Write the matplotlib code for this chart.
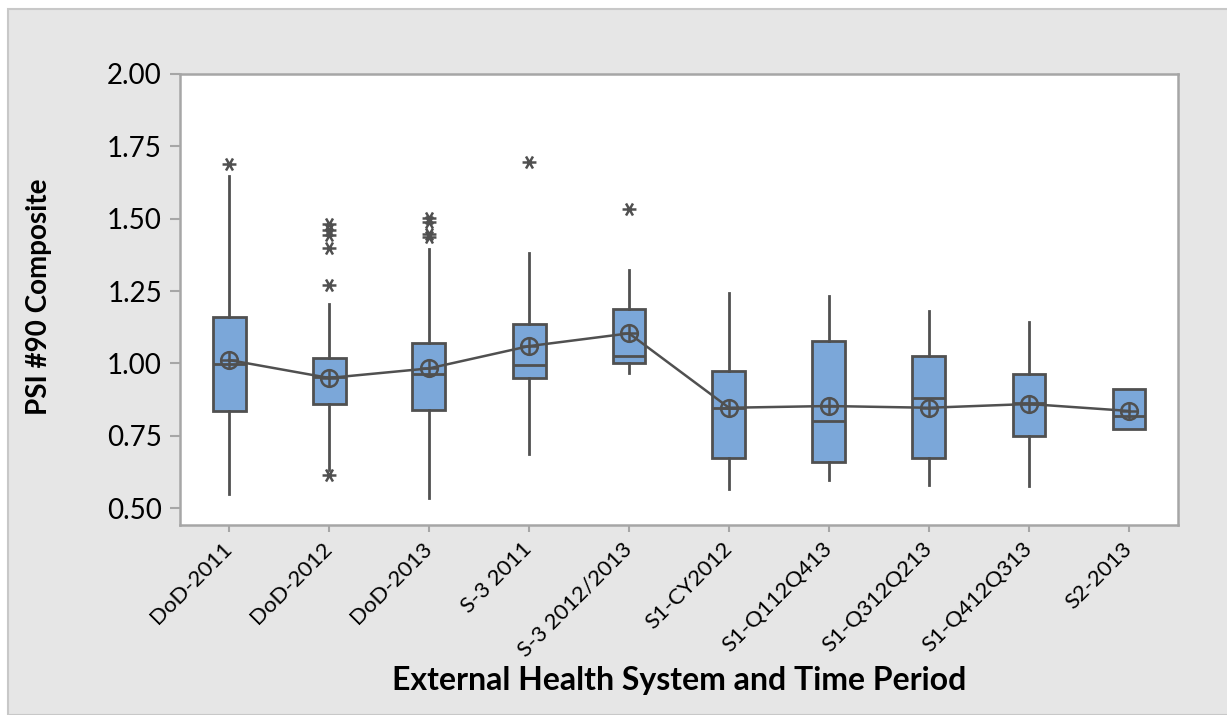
import numpy as np
import matplotlib
matplotlib.use("Agg")
import matplotlib.pyplot as plt
from matplotlib.path import Path
from matplotlib.patches import Rectangle

# values
groups = ["DoD-2011", "DoD-2012", "DoD-2013", "S-3 2011", "S-3 2012/2013",
          "S1-CY2012", "S1-Q112Q413", "S1-Q312Q213", "S1-Q412Q313", "S2-2013"]
q1 = [0.836, 0.860, 0.841, 0.949, 1.001, 0.675, 0.659, 0.675, 0.750, 0.775]
medians = [0.997, 0.952, 0.964, 0.995, 1.027, 0.847, 0.803, 0.880, 0.862, 0.820]
q3 = [1.162, 1.020, 1.071, 1.136, 1.188, 0.975, 1.079, 1.027, 0.964, 0.912]
whisk_lo = [0.548, 0.632, 0.534, 0.687, 0.966, 0.566, 0.598, 0.579, 0.577, 0.775]
whisk_hi = [1.649, 1.206, 1.397, 1.381, 1.323, 1.245, 1.233, 1.182, 1.142, 0.912]
means = [1.012, 0.950, 0.983, 1.060, 1.104, 0.847, 0.853, 0.847, 0.860, 0.836]
outliers = [[1.689],
            [1.482, 1.462, 1.445, 1.400, 1.271, 0.615],
            [1.502, 1.490, 1.447, 1.438],
            [1.695],
            [1.534],
            [], [], [], [], []]
yticks = [0.50, 0.75, 1.00, 1.25, 1.50, 1.75, 2.00]

edge = "#505050"
fill = "#7BA7D9"
frame = "#A6A6A6"

# six-armed asterisk like the one Minitab uses
ast = Path([(-1, 0), (1, 0), (-0.5, -0.866), (0.5, 0.866), (-0.5, 0.866), (0.5, -0.866)],
           [Path.MOVETO, Path.LINETO, Path.MOVETO, Path.LINETO, Path.MOVETO, Path.LINETO])

fig = plt.figure(figsize=(12.27, 7.15), dpi=100, facecolor="white")
fig.patches.append(Rectangle((8 / 1227, 0), 1, 1 - 9 / 715, transform=fig.transFigure,
                             facecolor="#E6E6E6", edgecolor="#C8C8C8", linewidth=1.5, zorder=-10))

ax = fig.add_axes([180 / 1227, 1 - 525 / 715, 998 / 1227, 451 / 715])
ax.set_facecolor("white")

stats = []
for i, g in enumerate(groups):
    stats.append(dict(label=g, q1=q1[i], med=medians[i], q3=q3[i],
                      whislo=whisk_lo[i], whishi=whisk_hi[i], fliers=outliers[i]))

pos = np.arange(1, len(groups) + 1)
ax.bxp(stats, positions=pos, widths=0.33, patch_artist=True, showcaps=False,
       boxprops=dict(facecolor=fill, edgecolor=edge, linewidth=2),
       medianprops=dict(color=edge, linewidth=2),
       whiskerprops=dict(color=edge, linewidth=2),
       flierprops=dict(marker=ast, markersize=10, markerfacecolor="none",
                       markeredgecolor=edge, markeredgewidth=1.8, linestyle="none"))

ax.plot(pos, means, color=edge, linewidth=1.8, zorder=5)
ax.plot(pos, means, linestyle="none", marker="o", markersize=12, markerfacecolor="none",
        markeredgecolor=edge, markeredgewidth=1.8, zorder=6)
ax.plot(pos, means, linestyle="none", marker="+", markersize=11,
        markeredgecolor=edge, markeredgewidth=1.8, zorder=6)

ax.set_xlim(0.51, 10.49)
ax.set_ylim(0.442, 2.0)
ax.set_yticks(yticks)
ax.set_yticklabels([f"{v:.2f}" for v in yticks], fontfamily="Lato", fontsize=20)
ax.set_xticks(pos)
ax.set_xticklabels(groups, rotation=45, ha="right", va="center", rotation_mode="anchor",
                   fontfamily="Lato", fontsize=16)
ax.tick_params(axis="y", direction="out", length=7, width=1.5, color=frame, pad=6)
ax.tick_params(axis="x", direction="out", length=5, width=1.5, color=frame, pad=10)
for s in ax.spines.values():
    s.set_color(frame)
    s.set_linewidth(1.8)

ax.set_ylabel("PSI #90 Composite", fontfamily="Lato", fontweight="bold", fontsize=20)
ax.yaxis.set_label_coords(-(180 - 52) / 998, 0.5 + (300 - 297) / 451)
ax.set_xlabel("External Health System and Time Period", fontfamily="Lato",
              fontweight="bold", fontsize=23)
ax.xaxis.set_label_coords(0.5, -(666 - 525) / 451)

fig.savefig("out.png", dpi=100, facecolor=fig.get_facecolor())
